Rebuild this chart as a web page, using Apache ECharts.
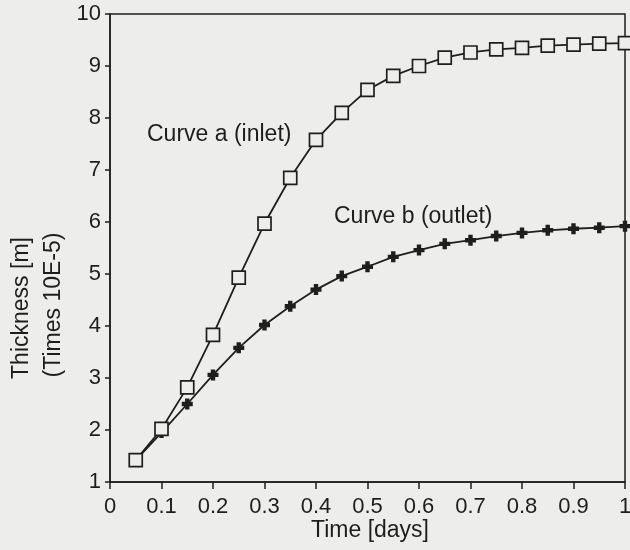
<!DOCTYPE html>
<html>
<head>
<meta charset="utf-8">
<script src="https://cdn.jsdelivr.net/npm/echarts@6/dist/echarts.min.js"></script>
<style>
  html, body { margin: 0; padding: 0; background: #ededeb; }
  #chart { width: 630px; height: 550px; }
</style>
</head>
<body>
<div id="chart"></div>
<script>
// time in days
const times = [0.05, 0.1, 0.15, 0.2, 0.25, 0.3, 0.35, 0.4, 0.45, 0.5,
  0.55, 0.6, 0.65, 0.7, 0.75, 0.8, 0.85, 0.9, 0.95, 1.0]
// thickness, times 10E-5 m
const curveA = [1.42, 2.02, 2.82, 3.83, 4.93, 5.97, 6.85, 7.58, 8.1, 8.54,
  8.81, 9.0, 9.16, 9.26, 9.32, 9.35, 9.39, 9.41, 9.43, 9.44]
const curveB = [1.42, 1.95, 2.5, 3.06, 3.58, 4.02, 4.38, 4.7, 4.96, 5.14,
  5.33, 5.46, 5.58, 5.65, 5.73, 5.79, 5.84, 5.87, 5.89, 5.92]

const ink = '#1e1e1e'
const bg = '#ededeb'
const font = 'Liberation Sans, Arial, sans-serif'
const plus = 'path://M3,0 L7,0 L7,3 L10,3 L10,7 L7,7 L7,10 L3,10 L3,7 L0,7 L0,3 L3,3 Z'

const pairs = (ys) => times.map((t, i) => [t, ys[i]])

const axisLine = { lineStyle: { color: ink, width: 1.5 } }
const tickStyle = { color: ink, width: 1.5 }

const options = {
  backgroundColor: bg,
  animation: false,
  grid: {
    left: 110, right: 5, top: 14, bottom: 68,
    outerBoundsMode: 'none',
    containLabel: false,
    show: true, borderColor: ink, borderWidth: 1.5,
  },
  xAxis: {
    type: 'value',
    min: 0, max: 1, interval: 0.1,
    axisLine,
    axisTick: { inside: false, length: 7, lineStyle: tickStyle },
    axisLabel: { color: ink, fontSize: 22, fontFamily: font, margin: 14 },
    splitLine: { show: false },
  },
  yAxis: {
    type: 'value',
    min: 1, max: 10, interval: 1,
    axisLine,
    axisTick: { inside: false, length: 5, lineStyle: tickStyle },
    axisLabel: { color: ink, fontSize: 22, fontFamily: font, margin: 9 },
    splitLine: { show: false },
  },
  series: [
    {
      name: 'Curve a (inlet)',
      type: 'line',
      data: pairs(curveA),
      symbol: 'rect',
      symbolSize: 13,
      showAllSymbol: true,
      lineStyle: { color: ink, width: 1.8 },
      itemStyle: { color: bg, borderColor: ink, borderWidth: 1.7 },
      z: 3,
    },
    {
      name: 'Curve b (outlet)',
      type: 'line',
      data: pairs(curveB),
      symbol: plus,
      symbolSize: 11,
      showAllSymbol: true,
      lineStyle: { color: ink, width: 1.8 },
      itemStyle: { color: ink, borderWidth: 0 },
      z: 2,
    },
  ],
  graphic: [
    {
      type: 'text', x: 147, y: 135,
      style: { text: 'Curve a (inlet)', fill: ink, fontSize: 23, fontFamily: font, verticalAlign: 'middle' },
    },
    {
      type: 'text', x: 334, y: 217,
      style: { text: 'Curve b (outlet)', fill: ink, fontSize: 23, fontFamily: font, verticalAlign: 'middle' },
    },
    {
      type: 'text', x: 370, y: 531,
      style: { text: 'Time [days]', fill: ink, fontSize: 23, fontFamily: font, align: 'center', verticalAlign: 'middle' },
    },
    {
      type: 'text', x: 22, y: 308, rotation: Math.PI / 2,
      style: { text: 'Thickness [m]', fill: ink, fontSize: 23, fontFamily: font, align: 'center', verticalAlign: 'middle' },
    },
    {
      type: 'text', x: 54, y: 305, rotation: Math.PI / 2,
      style: { text: '(Times 10E-5)', fill: ink, fontSize: 23, fontFamily: font, align: 'center', verticalAlign: 'middle' },
    },
  ],
}

const chart = echarts.init(document.getElementById('chart'))
chart.setOption(options)
</script>
</body>
</html>
